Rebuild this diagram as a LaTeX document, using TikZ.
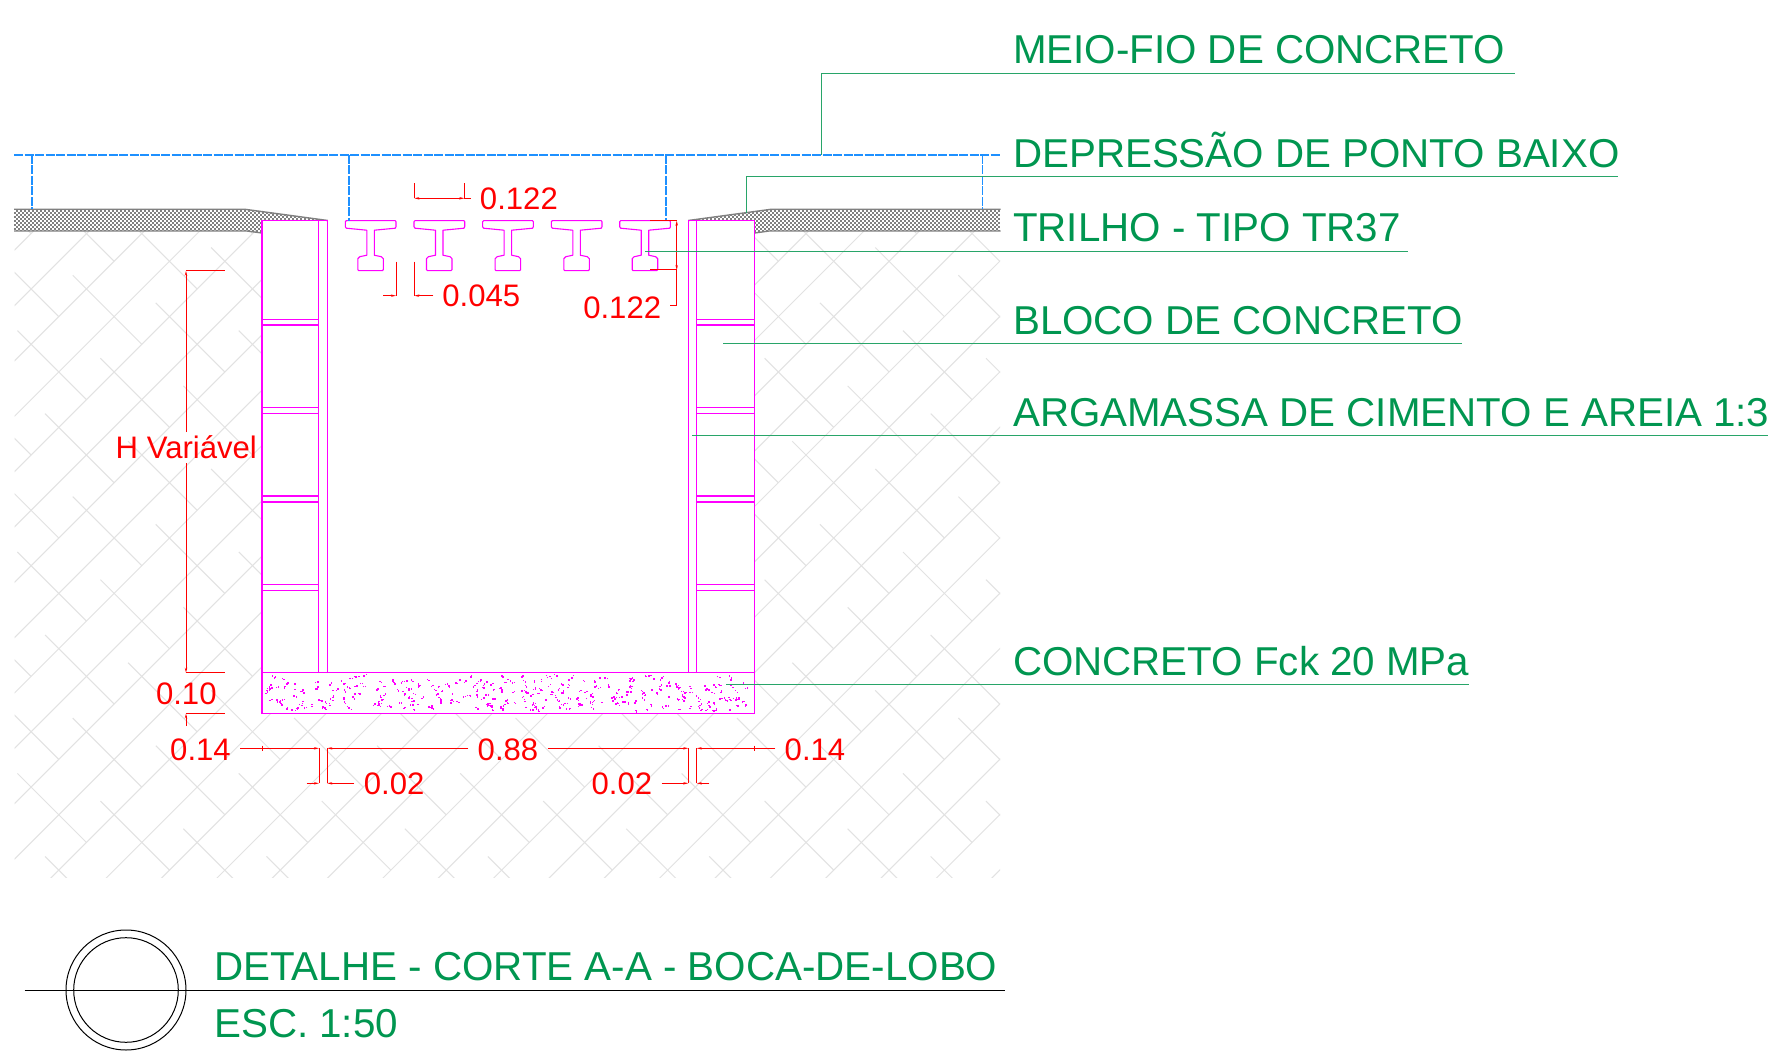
\documentclass[tikz,border=0pt]{standalone}
\usepackage{fontspec}
\setmainfont{Liberation Sans}
\usetikzlibrary{arrows.meta}
\definecolor{cadgreen}{RGB}{0,150,80}
\definecolor{leadgreen}{RGB}{40,165,105}
\definecolor{cadblue}{RGB}{30,144,255}
\definecolor{cadmag}{RGB}{255,0,255}
\definecolor{cadhatch}{RGB}{226,226,226}
\definecolor{cadgray}{RGB}{128,128,128}
\tikzset{
  glabel/.style={anchor=base west,inner sep=0pt,text=cadgreen,font=\fontsize{40.3}{48}\selectfont},
  tlabel/.style={anchor=base west,inner sep=0pt,text=cadgreen,font=\fontsize{40.35}{48}\selectfont},
  rlabel/.style={anchor=base,inner sep=0pt,text=red,font=\fontsize{31.1}{37}\selectfont},
  leader/.style={draw=leadgreen,line width=1pt},
  dimline/.style={draw=red,line width=1pt},
  dtip/.style={-{Stealth[length=5pt,width=2.4pt]}},
  wall/.style={draw=cadmag,line width=1.2pt},
  bluedash/.style={draw=cadblue,line width=1.7pt,dash pattern=on 9pt off 1.5pt},
  hatchline/.style={draw=cadhatch,line width=1pt},
  railshape/.style={draw=cadmag,line width=1.1pt,line join=round}
}
\newcommand{\railat}[2]{%
  \draw[railshape,shift={(#1,220.7)}] (1,0) -- (50,0) -- (50.7,1) -- (50.7,6) -- (50,7.5) -- (29,9.5) -- (29,34.5) -- (36,36) -- (38,38) -- (38,49) -- (37,50) -- (13.5,50) -- (12.5,49) -- (12.5,38) -- (14.5,36) -- (21.5,34.5) -- (21.5,9.5) -- (1,7.5) -- (0,6) -- (0,1) -- cycle;}
\begin{document}
\begin{tikzpicture}[x=1pt,y=-1pt]
\useasboundingbox (0,0) rectangle (1773,1051);
\fill[white] (0,0) rectangle (1773,1051);
% soil hatch
\begin{scope}
\clip (14.5,231) rectangle (1000,877.7);
\foreach \j in {-22,...,12}{
  \pgfmathsetmacro{\s}{1371.7+\j*55.35}
  \pgfmathsetmacro{\xa}{(\s+900)/2}
  \pgfmathsetmacro{\ya}{(\s-900)/2}
  \pgfmathsetmacro{\xb}{(\s-900)/2}
  \pgfmathsetmacro{\yb}{(\s+900)/2}
  \draw[hatchline] (\xa,\ya) -- (\xb,\yb);
}
\foreach \k in {-18,...,12}{
  \pgfmathsetmacro{\d}{129.6+\k*55.35}
  \pgfmathsetmacro{\st}{Mod(\k,2)==0 ? 1455 : 1565.7}
  \foreach \m in {-7,...,3}{
    \pgfmathsetmacro{\sa}{\st+\m*221.4}
    \pgfmathsetmacro{\sb}{\sa+138}
    \pgfmathsetmacro{\xa}{(\sa+\d)/2}
    \pgfmathsetmacro{\ya}{(\sa-\d)/2}
    \pgfmathsetmacro{\xb}{(\sb+\d)/2}
    \pgfmathsetmacro{\yb}{(\sb-\d)/2}
    \draw[hatchline] (\xa,\ya) -- (\xb,\yb);
  }
}
\end{scope}
\fill[white] (262,195) rectangle (754.7,713.5);
% pavement, left and right
\begin{scope}
\clip (14,209.3) -- (245,209.3) -- (327.7,220.5) -- (262,220.5) -- (262,233) -- (247,231) -- (14,231) -- cycle;
\foreach \r [evaluate=\r as \yy using 209+\r*2] in {0,...,12}{
  \pgfmathsetmacro{\ph}{Mod(\r,2)==0 ? 0 : 2}
  \draw[cadgray,line width=2pt,dash pattern=on 2pt off 2pt,dash phase=\ph pt] (14,\yy) -- (340,\yy);
}
\end{scope}
\begin{scope}
\clip (1000.5,209.3) -- (771,209.3) -- (688.3,220.5) -- (754.7,220.5) -- (754.7,233) -- (769,231) -- (1000.5,231) -- cycle;
\foreach \r [evaluate=\r as \yy using 209+\r*2] in {0,...,12}{
  \pgfmathsetmacro{\ph}{Mod(\r,2)==0 ? 0 : 2}
  \draw[cadgray,line width=2pt,dash pattern=on 2pt off 2pt,dash phase=\ph pt] (680,\yy) -- (1001,\yy);
}
\end{scope}
\draw[cadgray,line width=1.4pt] (14,209.3) -- (245,209.3) -- (327.7,220.5);
\draw[cadgray,line width=1.4pt] (14,231) -- (247,231) -- (262,233);
\draw[cadgray,line width=1.4pt] (1000.5,209.3) -- (771,209.3) -- (688.3,220.5);
\draw[cadgray,line width=1.4pt] (1000.5,231) -- (769,231) -- (754.7,233);
% walls
\draw[wall] (262,220.5) rectangle (318.7,672.7);
\draw[wall] (318.7,220.5) rectangle (327.5,672.7);
\draw[wall] (688.3,220.5) rectangle (696.7,672.7);
\draw[wall] (696.7,220.5) rectangle (754.7,672.7);
\foreach \ya/\yb in {319.3/325,407.3/413.7,496/502,584.3/590.3}{
  \draw[wall] (262,\ya) -- (318.7,\ya) (262,\yb) -- (318.7,\yb);
  \draw[wall] (696.7,\ya) -- (754.7,\ya) (696.7,\yb) -- (754.7,\yb);
}
% concrete slab
\draw[wall] (262,672.7) rectangle (754.7,713.5);
\pgfmathsetseed{4217}
\foreach \i in {1,...,330}{
  \pgfmathsetmacro{\px}{264+rnd*486}
  \pgfmathsetmacro{\py}{675+rnd*35}
  \pgfmathsetmacro{\qx}{\px+rnd*5-2.5}
  \pgfmathsetmacro{\qy}{\py+rnd*4-2}
  \fill[cadmag] (\px,\py) rectangle ++(1.6,1.6);
  \fill[cadmag] (\qx,\qy) rectangle ++(1.3,1.3);
}
% rails
\foreach \rx in {345.3,414,482.6,551.3,619.7}{\railat{\rx}{}}
% blue dashed reference lines
\draw[bluedash] (14,154.8) -- (1000.7,154.8);
\draw[bluedash] (31.7,154.8) -- (31.7,209.3);
\draw[bluedash] (349,154.8) -- (349,220.7);
\draw[bluedash] (666,154.8) -- (666,220.7);
\draw[bluedash] (982.6,154.8) -- (982.6,209.3);
% dimensions
\draw[dimline] (186,270.7) -- (224.7,270.7);
\draw[dimline,dtip] (186,432) -- (186,270.7);
\draw[dimline,dtip] (186,463) -- (186,672.7);
\draw[dimline] (186,672.7) -- (225,672.7);
\draw[dimline] (186,713.5) -- (225,713.5);
\draw[dimline,dtip] (186,726) -- (186,713.5);
% top 0.122
\draw[dimline] (414.3,183.3) -- (414.3,198.3);
\draw[dimline] (464.3,183.3) -- (464.3,198.3);
\draw[dimline,{Stealth[length=5pt,width=2.4pt]}-{Stealth[length=5pt,width=2.4pt]}] (414.3,198.3) -- (464.3,198.3);
\draw[dimline] (464.3,198.3) -- (470.7,198.3);
% 0.045
\draw[dimline] (396,261.7) -- (396,295.7);
\draw[dimline,dtip] (383.3,295.7) -- (396,295.7);
\draw[dimline] (414.3,261.7) -- (414.3,295.7);
\draw[dimline,dtip] (433.3,295.7) -- (414.3,295.7);
% right 0.122
\draw[dimline] (650,220.7) -- (676.7,220.7);
\draw[dimline] (650,270) -- (676.7,270);
\draw[dimline,{Stealth[length=5pt,width=2.4pt]}-{Stealth[length=5pt,width=2.4pt]}] (676.7,220.7) -- (676.7,270);
\draw[dimline] (676.7,270) -- (676.7,305) -- (670,305);
% bottom chain
\draw[dimline,dtip] (240,748.3) -- (319,748.3);
\draw[dimline] (319,748.3) -- (319,783.3);
\draw[dimline] (262,745.5) -- (262,751);
\draw[dimline,dtip] (306.7,783.3) -- (319,783.3);
\draw[dimline,dtip] (468.3,748.3) -- (327.2,748.3);
\draw[dimline] (327.2,748.3) -- (327.2,783.3);
\draw[dimline,dtip] (354,783.3) -- (327.2,783.3);
\draw[dimline,dtip] (547.7,748.3) -- (688.3,748.3);
\draw[dimline] (688.3,748.3) -- (688.3,783.3);
\draw[dimline,dtip] (661.7,783.3) -- (688.3,783.3);
\draw[dimline,dtip] (775.3,748.3) -- (696.7,748.3);
\draw[dimline] (696.7,748.3) -- (696.7,783.3);
\draw[dimline,dtip] (709.3,783.3) -- (696.7,783.3);
\draw[dimline] (754.7,745.5) -- (754.7,751);
% dimension texts
\node[rlabel] (dimRailTop) at (518.9,209.3) {0.122};
\node[rlabel] (dimGap) at (481.3,306) {0.045};
\node[rlabel] (dimRailH) at (622.2,318) {0.122};
\node[rlabel] (dimH) at (186.3,458) {H Variável};
\node[rlabel] (dimSlab) at (186.3,704) {0.10};
\node[rlabel] (dimWallL) at (200.5,760.5) {0.14};
\node[rlabel] (dimWidth) at (508,760.5) {0.88};
\node[rlabel] (dimWallR) at (815,760.5) {0.14};
\node[rlabel] (dimMortL) at (394.2,794.5) {0.02};
\node[rlabel] (dimMortR) at (621.9,794.5) {0.02};
% leaders
\draw[leader] (821,154.8) -- (821,73.5) -- (1515,73.5);
\draw[leader] (746.5,212.7) -- (746.5,176.6) -- (1618,176.6);
\draw[leader] (645,251.2) -- (1408,251.2);
\draw[leader] (723.3,343.8) -- (1462,343.8);
\draw[leader] (692,435.8) -- (1768,435.8);
\draw[leader] (726,684.7) -- (1469,684.7);
% callout texts
\node[glabel] (tMeio) at (1013,63.3) {MEIO-FIO DE CONCRETO};
\node[glabel] (tDepr) at (1013,168) {DEPRESSÃO DE PONTO BAIXO};
\node[glabel] (tTrilho) at (1013,241.5) {TRILHO - TIPO TR37};
\node[glabel] (tBloco) at (1013,334.5) {BLOCO DE CONCRETO};
\node[glabel] (tArg) at (1013,426) {ARGAMASSA DE CIMENTO E AREIA 1:3};
\node[glabel] (tConc) at (1013,675) {CONCRETO Fck 20 MPa};
% title block
\draw[black,line width=1pt] (24.7,990) -- (1005,990);
\node[draw=black,line width=1pt,circle,minimum size=120pt,inner sep=0pt] (outerC) at (126,990) {};
\node[draw=black,line width=1pt,circle,minimum size=104.6pt,inner sep=0pt] (innerC) at (126,990) {};
\node[tlabel] (tTitle) at (214,980) {DETALHE - CORTE A-A - BOCA-DE-LOBO};
\node[tlabel] (tScale) at (214,1037.7) {ESC. 1:50};
\end{tikzpicture}
\end{document}
